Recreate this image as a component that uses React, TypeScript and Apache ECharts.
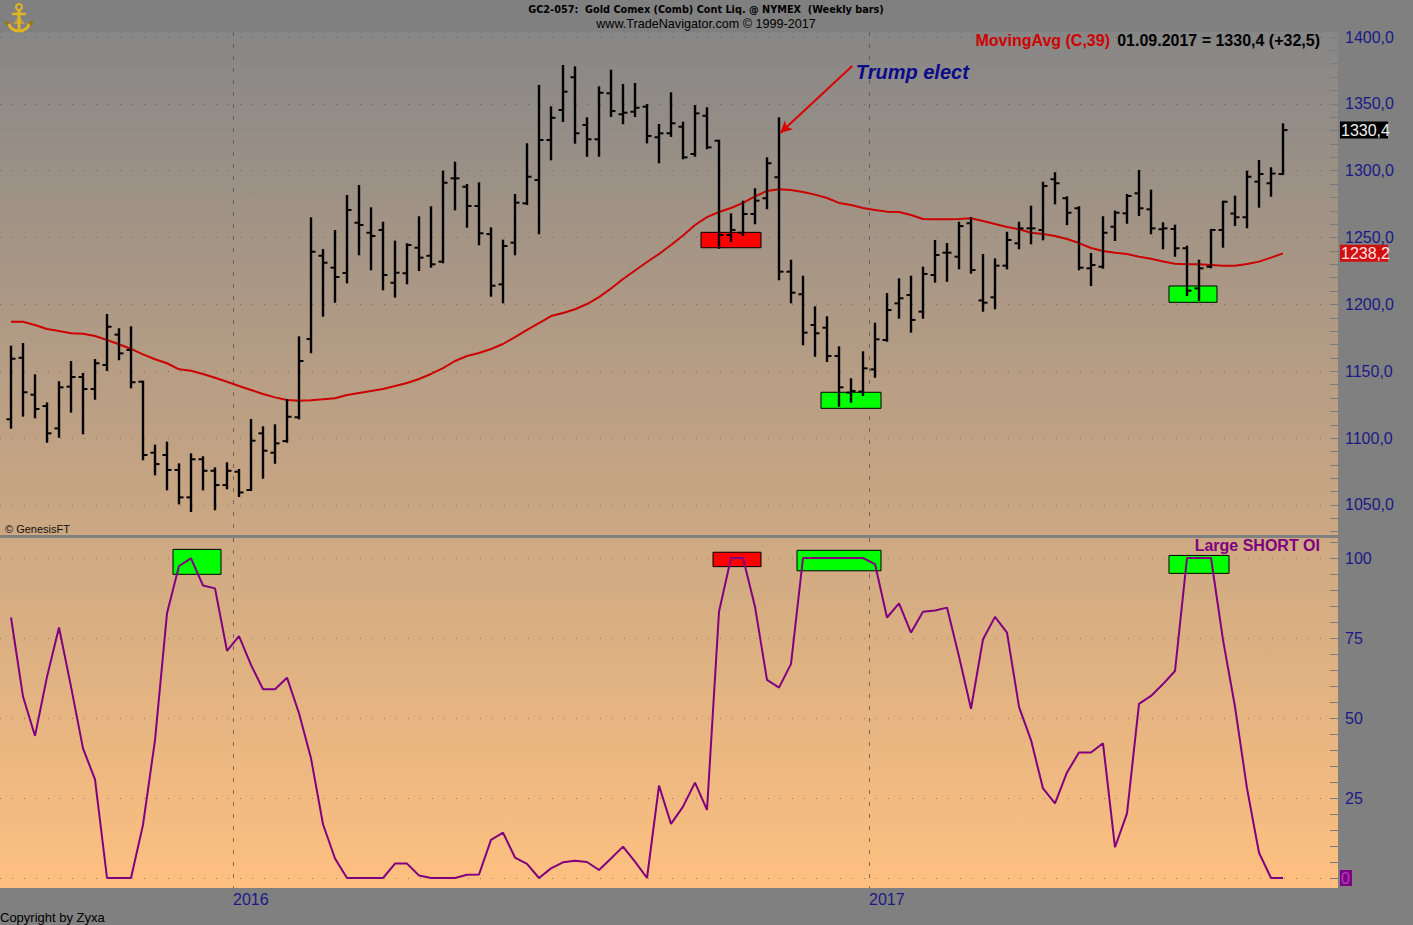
import React, { useEffect, useRef } from "react";
import * as echarts from "echarts";

// ---------- data ----------
const START_DATE = "2015-08-21"; // first weekly bar (Friday)
const opens = [1114.1,1160.1,1132.5,1124,1107.3,1138.5,1145.7,1136.7,1154.7,1177.4,1165.9,1142.2,1089.1,1087.4,1076.2,1055.7,1084.2,1075.6,1064.9,1074.9,1061.2,1103.6,1089.1,1097.8,1115.6,1174.1,1236.4,1227.5,1223.5,1261.1,1253.6,1255.7,1216.2,1223.3,1242.4,1236.4,1232,1294.3,1288,1273.6,1252.6,1215,1246.2,1275.6,1293,1323,1345.4,1369.9,1334.2,1323.5,1357.9,1342.2,1344.1,1347.9,1325,1328,1332.9,1312.5,1341.1,1322.4,1251.9,1253.6,1267.6,1279.4,1295.1,1224.5,1207.6,1184.6,1182.6,1161.4,1134,1134.8,1151.4,1173.4,1200.8,1207,1194.6,1222,1238.7,1235.7,1260.7,1203,1205.3,1229,1245.7,1256.9,1255.7,1293.6,1279.4,1271.9,1227,1228.2,1258.1,1268.1,1283.1,1271.1,1256.2,1256.4,1242,1212,1228.2,1255.7,1268,1265.2,1291.8,1290.6,1297.5];
const highs = [1168.4,1170.4,1147,1126,1141.8,1156.9,1148,1158.4,1192.1,1181.4,1182.9,1142.2,1094.4,1096.6,1080.4,1087.9,1085.7,1077.4,1081.2,1076.2,1113.6,1108.1,1109.6,1128.5,1175.4,1264.4,1240.7,1254.9,1281.1,1288.6,1271.9,1261.1,1247,1245,1265.2,1272.7,1299.3,1306,1289.3,1290.6,1256.9,1247.7,1281.8,1319.8,1363.4,1347.4,1378.3,1377.3,1339.2,1362.4,1374.8,1364.1,1364.9,1349.1,1334.2,1357.9,1335.9,1348.4,1346.7,1322.4,1267.4,1276.8,1286.1,1309.3,1339.2,1232.7,1220.7,1197.8,1190.4,1167.9,1144,1164.2,1185.6,1207.8,1218.8,1220.7,1227.5,1247.4,1245.2,1261.1,1264.4,1237,1233.7,1253.6,1261.1,1273.1,1291,1298.1,1280.1,1272.7,1237.7,1265.2,1269.4,1281.8,1299.8,1285.1,1260.7,1258.9,1243.2,1232.7,1255.7,1276.8,1280.6,1299.3,1307.3,1301.8,1334.7];
const lows = [1107.8,1116.8,1115.6,1097.3,1101,1119.8,1103.6,1129.5,1151,1159,1138,1084.2,1072.9,1061.7,1051.2,1045.5,1061.7,1046.8,1062.5,1056.7,1061.2,1070.4,1081.6,1097.3,1114.8,1164.2,1191.6,1202,1216.5,1237.5,1226.3,1211.3,1205.8,1215.8,1225.7,1228.2,1231.5,1271.1,1258.1,1245,1206.5,1201.6,1237.5,1275.1,1253.2,1308.5,1337.2,1321,1311.2,1311.2,1340.9,1335.5,1340.9,1321.2,1306.3,1326,1309.3,1311.2,1316.8,1242.4,1247.4,1251.9,1260.7,1271.9,1218.8,1201.6,1170.2,1161.6,1157.7,1124.3,1127.3,1132.3,1145.9,1172.9,1190.1,1179.6,1190.1,1217,1217.7,1227,1223.7,1195.3,1197.1,1227,1242,1245.7,1248.7,1275.6,1260.1,1226.3,1214.5,1227.5,1248.2,1261.1,1266.9,1253.2,1242,1236.4,1207,1203.3,1227.8,1243.2,1259.4,1257.7,1273.1,1281.3,1297.5];
const closes = [1159.4,1134.3,1121.8,1103.6,1138,1145.7,1136.7,1156,1183.3,1163.4,1141.8,1087.4,1080.6,1076.2,1055.7,1084.2,1075.6,1064.9,1075.6,1059.4,1098.1,1090.6,1096.1,1116,1157.7,1239.4,1231.2,1220.5,1270.6,1259.4,1251.2,1222,1223.7,1244.4,1235,1230,1291,1294.3,1273.6,1253.2,1214,1243.7,1276.1,1295.5,1323,1339.6,1359.1,1328,1323.5,1358.3,1344.6,1343.4,1347.1,1326,1328,1335.5,1310,1342.9,1317.5,1251.9,1255.7,1267.6,1277.6,1305.6,1224.5,1208.8,1178.9,1178.4,1161.4,1138,1135.3,1152.2,1173.9,1195.8,1204.6,1188.4,1222.8,1237,1238.7,1258.6,1225.7,1201.3,1229,1248.2,1256.9,1256.9,1288.6,1290.6,1268.6,1227.5,1229.5,1253.6,1268.6,1281.1,1271.9,1256.9,1256.9,1242,1210.3,1227,1255.7,1276.8,1265.2,1295.5,1297.5,1297.9,1330.4];
const movingAvg39 = [1187,1187,1184.6,1181.6,1180.1,1178.4,1178.1,1176.4,1173.4,1170.2,1166.7,1162.7,1159,1156,1151.5,1150.4,1148,1145.2,1142.2,1139,1136,1133,1130.5,1128.5,1128,1128.3,1129,1129.8,1132.2,1133.7,1135.2,1136.7,1139,1141.2,1144.2,1148,1152.4,1157.7,1161.4,1163.7,1166.7,1170.4,1175.6,1180.9,1186.1,1191.3,1193.6,1196.4,1200.3,1205.5,1211.9,1219,1225.4,1231.7,1237.7,1244.4,1251.5,1259.4,1265.3,1269.1,1272.1,1275.9,1280.8,1284.9,1286.1,1285.6,1284.1,1282.1,1279.6,1275.9,1274.4,1272.1,1270.6,1269.4,1269.1,1266.9,1263.9,1263.7,1263.7,1263.9,1264.4,1262.4,1260.1,1257.9,1256.2,1253.6,1252.7,1251.2,1248.9,1245.9,1242.2,1239.9,1238.7,1237.7,1235.7,1234.2,1232.1,1230.4,1230,1230,1229.5,1229,1229,1230.2,1232,1235,1238.2];
const largeShortOI = [81.4,56.7,44.4,62.9,78.3,59.8,40.5,30.8,0,0,0,16.6,43.1,82.7,97.5,99.9,91.4,90.5,71,75.6,66.6,59,59,62.6,51.5,37.4,16.8,6.1,0,0,0,0,4.5,4.5,0.8,0,0,0,1,1.1,11.9,14.2,6.4,4.4,0,3,4.9,5.4,5,2.5,6.1,9.8,5.1,0,28.9,16.9,22.3,29.8,21.3,83.2,100,100,84.8,61.9,59.5,66.9,100,100,100,100,100,100,98.1,81.4,85.8,76.7,83.2,83.6,84.5,69.2,52.9,74.6,81.6,76.7,53.5,43.1,28,23.3,33,39.2,39.2,42.1,9.6,20.2,54.4,56.9,60.6,64.7,100,100,100,74.4,53.5,28,7.9,0,0];

// signal boxes: [fromBar, toBar, low, high, kind]
const priceBoxes: [number, number, number, number, string][] = [
  [57.5, 62.5, 1242.4, 1253.9, "sell"],
  [67.5, 72.5, 1122.3, 1134.3, "buy"],
  [96.5, 100.5, 1201.6, 1213.8, "buy"],
];
const oiBoxes: [number, number, number, number, string][] = [
  [13.5, 17.5, 94.9, 102.7, "buy"],
  [58.5, 62.5, 97.3, 101.8, "sell"],
  [65.5, 72.5, 96.0, 102.4, "buy"],
  [96.5, 101.5, 95.2, 100.8, "buy"],
];
const priceLabels = [1050, 1100, 1150, 1200, 1250, 1300, 1350, 1400];
const oiLabels = [0, 25, 50, 75, 100];
const trumpArrow = { from: [70.1, 1378.3], to: [64.1, 1328.2] };
const trumpText = { at: [70.4, 1373.8], text: "Trump elect" };

// ---------- derived ----------
const dates: Date[] = closes.map((_, i) => {
  const d = new Date(START_DATE + "T00:00:00Z");
  d.setUTCDate(d.getUTCDate() + 7 * i);
  return d;
});
const yearTicks: { at: number; label: string }[] = [];
for (let i = 1; i < dates.length; i++) {
  if (dates[i].getUTCFullYear() !== dates[i - 1].getUTCFullYear()) {
    yearTicks.push({ at: i - 0.5, label: String(dates[i].getUTCFullYear()) });
  }
}
const minorPrice: number[] = [];
for (let v = 1030; v <= 1400; v += 10) minorPrice.push(v);
const minorOI: number[] = [];
for (let v = 0; v <= 105; v += 5) minorOI.push(v);

const last = closes.length - 1;
const lastClose = closes[last];
const lastChange = +(closes[last] - closes[last - 1]).toFixed(1);
const lastMA = movingAvg39[last];
const fmtDate = (d: Date) =>
  `${String(d.getUTCDate()).padStart(2, "0")}.${String(d.getUTCMonth() + 1).padStart(2, "0")}.${d.getUTCFullYear()}`;
const comma = (v: number) => v.toFixed(1).replace(".", ",");

// ---------- layout ----------
const FONT = '"Liberation Sans", Arial, Helvetica, sans-serif';
const NARROW = '"Liberation Sans Narrow", "Arial Narrow", "DejaVu Sans Condensed", sans-serif';
const X_MIN = -0.9167;
const X_MAX = 110.583;
const Y_MIN = 1027.56;
const Y_MAX = 1403.74;
const OI_MIN = -3.125;
const OI_MAX = 106.25;
const PANEL_LEFT = 0;
const PANEL_W = 1338;

const C0 = [135, 135, 135];
const C1 = [254, 192, 128];
const mix = (y: number) => {
  const t = Math.max(0, Math.min(1, (y - 32) / (888 - 32)));
  const c = C0.map((a, k) => Math.round(a + (C1[k] - a) * t));
  return `rgb(${c[0]},${c[1]},${c[2]})`;
};
const grad = (y0: number, y1: number) =>
  new echarts.graphic.LinearGradient(0, 0, 0, 1, [
    { offset: 0, color: mix(y0) },
    { offset: 1, color: mix(y1) },
  ]);

const boxColor = (k: string) => (k === "sell" ? "#ff0000" : "#00ff00");
const toMarkArea = (boxes: [number, number, number, number, string][]) =>
  boxes.map(([a, b, lo, hi, k]) => [
    { coord: [a, hi], itemStyle: { color: boxColor(k), borderColor: "#000", borderWidth: 1, opacity: 1 } },
    { coord: [b, lo] },
  ]);

const AXIS_BLUE = "#1a1a86";
const dotted = { color: "rgba(70,70,70,0.55)", type: [1, 11] as any, width: 1 };
const noLine = { show: false, onZero: false };

export default function App() {
  const ref = useRef<HTMLDivElement>(null);
  useEffect(() => {
    document.body.style.margin = "0";
    if (!ref.current) return;
    const chart = echarts.init(ref.current, null, { renderer: "svg" });
    const option: any = {
      animation: false,
      backgroundColor: "#808080",
      grid: [
        { left: PANEL_LEFT, top: 32, width: PANEL_W, height: 503, show: true, borderWidth: 0, backgroundColor: grad(32, 535) },
        { left: PANEL_LEFT, top: 538, width: PANEL_W, height: 350, show: true, borderWidth: 0, backgroundColor: grad(538, 888) },
      ],
      xAxis: [0, 1].map((g) => ({
        type: "value",
        gridIndex: g,
        position: "bottom",
        min: X_MIN,
        max: X_MAX,
        axisLine: noLine,
        axisTick: { show: false, customValues: yearTicks.map((t) => t.at) },
        axisLabel:
          g === 1
            ? {
                show: true,
                customValues: yearTicks.map((t) => t.at),
                formatter: (v: number) => {
                  const t = yearTicks.find((y) => Math.abs(y.at - v) < 0.01);
                  return t ? t.label : "";
                },
                align: "left",
                color: AXIS_BLUE,
                fontSize: 16,
                fontFamily: FONT,
                margin: 3,
              }
            : { show: false },
        splitLine: { show: true, lineStyle: { color: "rgba(80,80,80,0.75)", type: [4, 8], width: 1 } },
      })),
      yAxis: [
        {
          type: "value", gridIndex: 0, position: "right", min: Y_MIN, max: Y_MAX,
          axisLine: noLine,
          axisTick: { show: true, inside: true, length: 8, customValues: minorPrice, lineStyle: { color: "#7a7a7a", width: 1 } },
          axisLabel: { show: true, customValues: priceLabels, formatter: (v: number) => comma(v), color: AXIS_BLUE, fontSize: 16, fontFamily: FONT, margin: 7 },
          splitLine: { show: false },
        },
        {
          type: "value", gridIndex: 0, position: "left", min: Y_MIN, max: Y_MAX,
          axisLine: noLine,
          axisTick: { show: false, customValues: priceLabels },
          axisLabel: { show: false },
          splitLine: { show: true, lineStyle: dotted },
        },
        {
          type: "value", gridIndex: 1, position: "right", min: OI_MIN, max: OI_MAX,
          axisLine: noLine,
          axisTick: { show: true, inside: true, length: 8, customValues: minorOI, lineStyle: { color: "#7a7a7a", width: 1 } },
          axisLabel: { show: true, customValues: oiLabels.filter((v) => v > 0), color: AXIS_BLUE, fontSize: 16, fontFamily: FONT, margin: 7 },
          splitLine: { show: false },
        },
        {
          type: "value", gridIndex: 1, position: "left", min: OI_MIN, max: OI_MAX,
          axisLine: noLine,
          axisTick: { show: false, customValues: oiLabels },
          axisLabel: { show: false },
          splitLine: { show: true, lineStyle: dotted },
        },
      ],
      series: [
        {
          type: "line",
          name: "MovingAvg (C,39)",
          xAxisIndex: 0,
          yAxisIndex: 0,
          data: movingAvg39.map((v, i) => [i, v]),
          showSymbol: false,
          lineStyle: { color: "#cc0000", width: 2 },
          z: 2,
          markArea: { silent: true, data: toMarkArea(priceBoxes) },
          markLine: {
            silent: true,
            symbol: ["none", "arrow"],
            symbolSize: [9, 12],
            lineStyle: { color: "#dd0000", width: 2, type: "solid" },
            label: { show: false },
            data: [[{ coord: trumpArrow.from }, { coord: trumpArrow.to }]],
          },
        },
        {
          type: "custom",
          name: "GC2",
          xAxisIndex: 0,
          yAxisIndex: 0,
          z: 3,
          data: closes.map((c, i) => [i, opens[i], highs[i], lows[i], c]),
          encode: { x: 0, y: [1, 2, 3, 4] },
          renderItem: (_p: any, api: any) => {
            const i = api.value(0);
            const o = api.coord([i, api.value(1)]);
            const h = api.coord([i, api.value(2)]);
            const l = api.coord([i, api.value(3)]);
            const c = api.coord([i, api.value(4)]);
            const st = { stroke: "#000", lineWidth: 2.4 };
            const tk = { stroke: "#000", lineWidth: 2 };
            return {
              type: "group",
              children: [
                { type: "line", shape: { x1: h[0], y1: h[1] - 1, x2: l[0], y2: l[1] + 1 }, style: st },
                { type: "line", shape: { x1: o[0] - 4.5, y1: o[1], x2: o[0], y2: o[1] }, style: tk },
                { type: "line", shape: { x1: c[0], y1: c[1], x2: c[0] + 4.5, y2: c[1] }, style: tk },
              ],
            };
          },
        },
        {
          type: "line",
          name: "Large SHORT OI",
          xAxisIndex: 1,
          yAxisIndex: 2,
          data: largeShortOI.map((v, i) => [i, v]),
          showSymbol: false,
          lineStyle: { color: "#800080", width: 2 },
          z: 3,
          markArea: { silent: true, data: toMarkArea(oiBoxes) },
        },
      ],
    };
    chart.setOption(option);

    const p0 = (x: number, y: number) => chart.convertToPixel({ gridIndex: 0 }, [x, y]) as number[];
    const p1 = (x: number, y: number) => chart.convertToPixel({ gridIndex: 1 }, [x, y]) as number[];
    const rightX = p0(X_MAX, lastClose)[0] + 2;
    const closeY = p0(X_MAX, lastClose)[1];
    const maY = p0(X_MAX, lastMA)[1];
    const zeroY = p1(X_MAX, 0)[1];
    const trump = p0(trumpText.at[0], trumpText.at[1]);
    const gold = "#e2b422";
    const goldDark = "#9a7410";

    chart.setOption({
      graphic: [
        { type: "text", x: 706, y: 9, style: { text: "GC2-057:  Gold Comex (Comb) Cont Liq. @ NYMEX  (Weekly bars)", font: `bold 10.8px ${NARROW}`, fill: "#000", align: "center", verticalAlign: "middle" } },
        { type: "text", x: 706, y: 24, style: { text: "www.TradeNavigator.com \u00a9 1999-2017", font: `12.6px ${FONT}`, fill: "#000", align: "center", verticalAlign: "middle" } },
        {
          type: "group", x: 4, y: 2,
          children: [
            { type: "circle", shape: { cx: 15, cy: 5, r: 3 }, style: { stroke: gold, lineWidth: 2, fill: "none" } },
            { type: "line", shape: { x1: 15, y1: 8, x2: 15, y2: 29 }, style: { stroke: gold, lineWidth: 3 } },
            { type: "line", shape: { x1: 8, y1: 12, x2: 22, y2: 12 }, style: { stroke: gold, lineWidth: 2.5 } },
            { type: "arc", shape: { cx: 15, cy: 18, r: 11, startAngle: 0.35, endAngle: Math.PI - 0.35 }, style: { stroke: gold, lineWidth: 3, fill: "none" } },
            { type: "polygon", shape: { points: [[0, 19], [6, 20], [3, 24]] }, style: { fill: goldDark } },
            { type: "polygon", shape: { points: [[30, 19], [24, 20], [27, 24]] }, style: { fill: goldDark } },
            { type: "polygon", shape: { points: [[9, 22], [21, 22], [15, 14]] }, style: { fill: "rgba(226,180,34,0.6)" } },
          ],
        },
        { type: "text", x: 1110, y: 40, style: { text: "MovingAvg (C,39)", font: `bold 16px ${FONT}`, fill: "#d00000", align: "right", verticalAlign: "middle" } },
        { type: "text", x: 1320, y: 40, style: { text: `${fmtDate(dates[last])} = ${comma(lastClose)} (${lastChange >= 0 ? "+" : ""}${comma(lastChange)})`, font: `bold 16px ${FONT}`, fill: "#000", align: "right", verticalAlign: "middle" } },
        { type: "text", x: 1320, y: 545, style: { text: "Large SHORT OI", font: `bold 16px ${FONT}`, fill: "#800080", align: "right", verticalAlign: "middle" } },
        { type: "text", x: 5, y: 529, style: { text: "\u00a9 GenesisFT", font: `11px ${FONT}`, fill: "#111", verticalAlign: "middle" } },
        { type: "text", x: 0, y: 917, style: { text: "Copyright by Zyxa", font: `13px ${FONT}`, fill: "#000", verticalAlign: "middle" } },
        { type: "text", x: trump[0], y: trump[1], style: { text: trumpText.text, font: `italic bold 20px ${FONT}`, fill: "#0a0a8a", verticalAlign: "middle" } },
        { type: "rect", shape: { x: rightX, y: closeY - 8.5, width: 48, height: 17 }, style: { fill: "#000" } },
        { type: "text", x: rightX + 1, y: closeY, style: { text: comma(lastClose), font: `16px ${FONT}`, fill: "#f0f0f0", verticalAlign: "middle" } },
        { type: "rect", shape: { x: rightX, y: maY - 8.5, width: 48, height: 17 }, style: { fill: "#d01010" } },
        { type: "text", x: rightX + 1, y: maY, style: { text: comma(lastMA), font: `16px ${FONT}`, fill: "#ffe0e0", verticalAlign: "middle" } },
        { type: "rect", shape: { x: rightX, y: zeroY - 8, width: 12, height: 16 }, style: { fill: "#800080" } },
        { type: "text", x: rightX + 1, y: zeroY, style: { text: "0", font: `16px ${FONT}`, fill: "#b040c0", verticalAlign: "middle" } },
      ],
    });
    return () => chart.dispose();
  }, []);
  return <div ref={ref} style={{ width: 1413, height: 925 }} />;
}
